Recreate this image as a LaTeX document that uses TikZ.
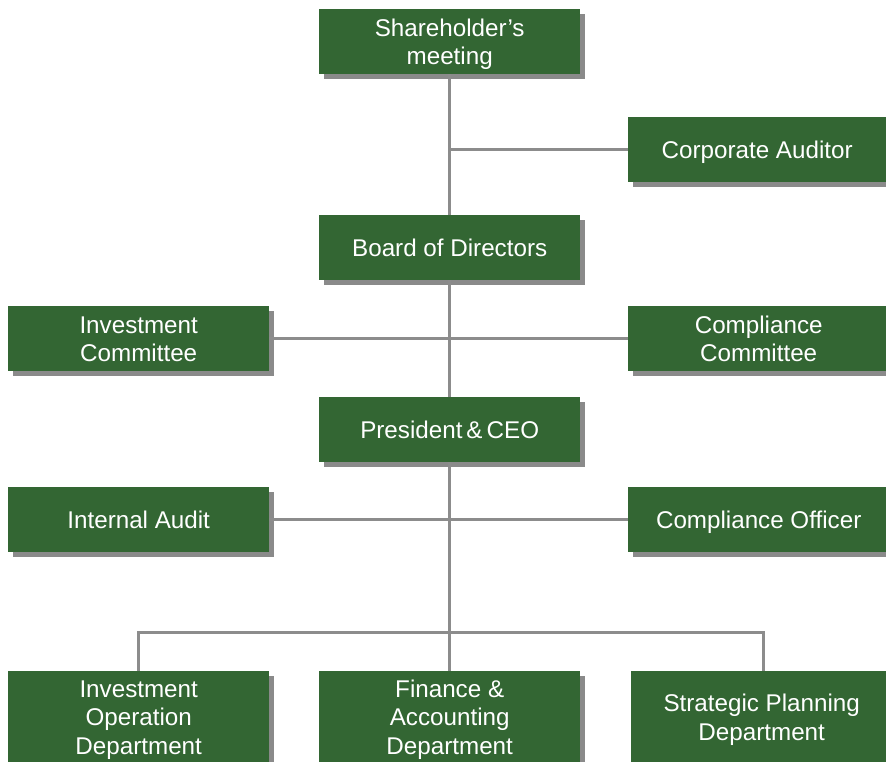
\documentclass[tikz,border=0pt]{standalone}
\usepackage{fontspec}
\setmainfont{Liberation Sans}
\usetikzlibrary{shadows}
\definecolor{boxgreen}{HTML}{336633}
\definecolor{linegray}{HTML}{8C8C8C}
\definecolor{shadowgray}{HTML}{8A8A8A}
\newcommand{\capstrut}{\rule[-6.1pt]{0pt}{29pt}}
\newcommand{\topstrut}{\rule{0pt}{23.5pt}}
\newcommand{\botstrut}{\rule[-6.2pt]{0pt}{6.2pt}}
\tikzset{
  orgbox/.style={draw=none, fill=boxgreen, text=white, anchor=north west,
    minimum width=261pt, minimum height=65pt, inner sep=0pt, align=center,
    font=\fontsize{24.2}{28.5}\selectfont,
    drop shadow={shadow xshift=4.5pt, shadow yshift=-4.5pt, fill=shadowgray, opacity=1}},
  tallbox/.style={orgbox, minimum height=92pt},
  conn/.style={draw=linegray, line width=3pt}
}
\begin{document}
\begin{tikzpicture}[x=1pt, y=-1pt]
\useasboundingbox (0,0) rectangle (886,762);
\clip (0,0) rectangle (886,762);
\node[orgbox] (sh) at (319,9) {\topstrut Shareholder's\\meeting\botstrut};
\node[orgbox] (ca) at (628,117) {\capstrut\hspace*{-3pt}Corporate Auditor};
\node[orgbox] (bd) at (319,215) {\capstrut Board of Directors};
\node[orgbox] (ic) at (8,306) {\topstrut Investment\\Committee\botstrut};
\node[orgbox] (cc) at (628,306) {\topstrut Compliance\\Committee\botstrut};
\node[orgbox] (pr) at (319,397) {\capstrut President\,\&\,CEO};
\node[orgbox] (ia) at (8,487) {\capstrut Internal Audit};
\node[orgbox] (co) at (628,487) {\capstrut Compliance Officer};
\node[tallbox] (iod) at (8,671) {\topstrut Investment\\Operation\\Department\botstrut};
\node[tallbox] (fad) at (319,671) {\topstrut Finance \&\\Accounting\\Department\botstrut};
\node[tallbox] (spd) at (631,671) {\topstrut Strategic Planning\\Department\botstrut};
\coordinate (bus) at (449.5,632);
\draw[conn] (sh.south) -- (bd.north);
\draw[conn] (ca.west) -- (ca.west -| sh.south);
\draw[conn] (bd.south) -- (pr.north);
\draw[conn] (ic.east) -- (cc.west);
\draw[conn] (pr.south) -- (fad.north);
\draw[conn] (ia.east) -- (co.west);
\draw[conn] (iod.north -| 138,0) |- (bus) -| (spd.north -| 763,0);
\end{tikzpicture}
\end{document}
